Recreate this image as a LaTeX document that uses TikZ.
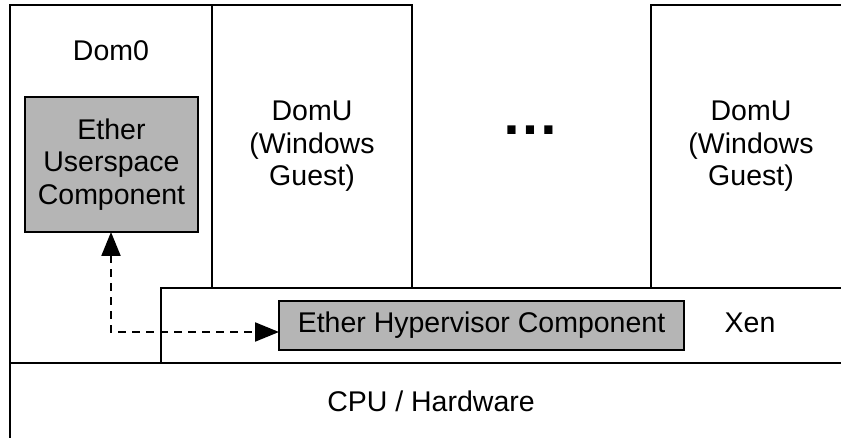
\documentclass[tikz,border=0pt]{standalone}
\usepackage{fontspec}
\setmainfont{Liberation Sans}
\usetikzlibrary{arrows.meta}
\definecolor{compgray}{RGB}{181,181,181}
\begin{document}
\begin{tikzpicture}[x=1pt,y=-1pt,
  blk/.style={draw=black, line width=1.8pt, fill=white, rectangle, inner sep=0pt, outer sep=0pt,
              font=\fontsize{28.5}{32.5}\selectfont, align=center},
  comp/.style={blk, fill=compgray},
  lbl/.style={inner sep=0pt, font=\fontsize{28.5}{32.5}\selectfont, align=center},
  link/.style={line width=2.1pt, dash pattern=on 8pt off 6pt,
               {Triangle[length=24pt,width=19pt]}-{Triangle[length=24pt,width=19pt]}}
]
\useasboundingbox (0,0) rectangle (841,438);
\clip (0,0) rectangle (841,438);
% hardware
\node[blk, minimum width=860pt, minimum height=97pt] (cpu) at (440,411.5) {};
% domains
\node[blk, minimum width=202pt, minimum height=358pt] (dom0) at (111,184) {};
\node[blk, minimum width=200pt, minimum height=283pt] (domu1) at (312,146.5) {DomU\\(Windows\\Guest)};
\node[blk, minimum width=200pt, minimum height=283pt] (domu2) at (751,146.5) {DomU\\(Windows\\Guest)};
% hypervisor layer
\node[blk, minimum width=709pt, minimum height=75pt] (xen) at (515.5,325.5) {};
% components
\node[comp, minimum width=173pt, minimum height=135pt] (ush) at (111.5,164.5) {Ether\\Userspace\\Component};
\node[comp, minimum width=405pt, minimum height=49pt] (hyp) at (481.5,325.5) {Ether Hypervisor Component};
% labels
\node[lbl] (dom0lbl) at (111,51) {Dom0};
\node[lbl] (xenlbl) at (750,323) {Xen};
\node[lbl] (cpulbl) at (431,401) {CPU / Hardware};
\node[inner sep=0pt, font=\bfseries\fontsize{58}{60}\selectfont] (dots) at (530,130) {…};
% connector
\coordinate (bend) at (111,332);
\draw[link] (ush.south -| bend) -- (bend) -- (hyp.west |- bend);
\end{tikzpicture}
\end{document}
